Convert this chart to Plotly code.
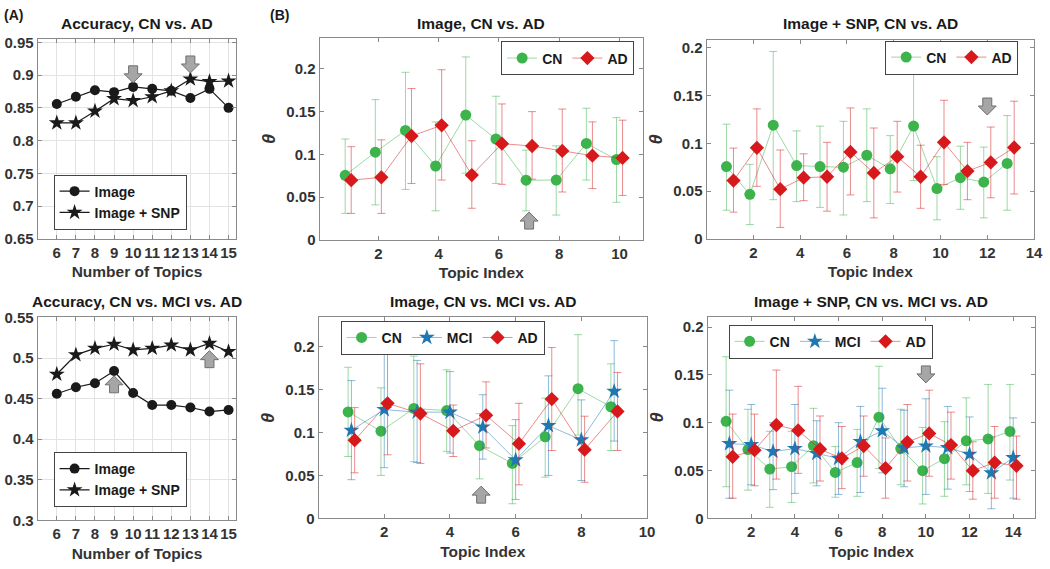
import plotly.graph_objects as go

W, H = 1050, 569

# ---------------- Panel (A) data ----------------
topics_A = [6, 7, 8, 9, 10, 11, 12, 13, 14, 15]
acc_2c_image = [0.856, 0.867, 0.877, 0.874, 0.882, 0.879, 0.876, 0.865, 0.879, 0.850]
acc_2c_snp = [0.827, 0.827, 0.845, 0.864, 0.861, 0.867, 0.876, 0.894, 0.890, 0.891]
acc_3c_image = [0.456, 0.464, 0.469, 0.484, 0.457, 0.442, 0.442, 0.439, 0.434, 0.436]
acc_3c_snp = [0.480, 0.504, 0.512, 0.517, 0.510, 0.512, 0.516, 0.510, 0.518, 0.508]

# ---------------- Panel (B) data: Image, CN vs AD (10 topics) ----------------
img2_cn = [0.0755, 0.1026, 0.128, 0.0864, 0.146, 0.118, 0.0698, 0.070, 0.1128, 0.094]
img2_cn_lo = [0.031, 0.041, 0.059, 0.034, 0.078, 0.066, 0.034, 0.029, 0.070, 0.044]
img2_cn_hi = [0.118, 0.164, 0.196, 0.138, 0.214, 0.168, 0.105, 0.110, 0.154, 0.143]
img2_ad = [0.0698, 0.0732, 0.1215, 0.134, 0.0758, 0.1125, 0.1098, 0.104, 0.0985, 0.0958]
img2_ad_lo = [0.031, 0.031, 0.066, 0.070, 0.037, 0.065, 0.071, 0.056, 0.060, 0.052]
img2_ad_hi = [0.109, 0.117, 0.177, 0.199, 0.116, 0.159, 0.150, 0.153, 0.138, 0.140]

# ---------------- Image + SNP, CN vs AD (13 topics) ----------------
snp2_cn = [0.0757, 0.0466, 0.119, 0.0767, 0.0757, 0.075, 0.0875, 0.0733, 0.118, 0.0527, 0.064, 0.0595, 0.079]
snp2_cn_lo = [0.030, 0.015, 0.041, 0.039, 0.033, 0.025, 0.039, 0.037, 0.061, 0.020, 0.031, 0.022, 0.030]
snp2_cn_hi = [0.120, 0.078, 0.196, 0.113, 0.118, 0.123, 0.136, 0.108, 0.174, 0.086, 0.097, 0.096, 0.129]
snp2_ad = [0.061, 0.0953, 0.052, 0.064, 0.065, 0.091, 0.069, 0.086, 0.065, 0.101, 0.071, 0.080, 0.0956]
snp2_ad_lo = [0.028, 0.055, 0.012, 0.040, 0.029, 0.046, 0.022, 0.049, 0.032, 0.057, 0.041, 0.043, 0.047]
snp2_ad_hi = [0.095, 0.136, 0.093, 0.089, 0.101, 0.137, 0.116, 0.123, 0.098, 0.145, 0.101, 0.117, 0.144]

# ---------------- Image, CN vs MCI vs AD (9 topics) ----------------
img3_cn = [0.124, 0.1015, 0.128, 0.1256, 0.0846, 0.064, 0.095, 0.151, 0.130]
img3_cn_lo = [0.072, 0.050, 0.066, 0.078, 0.046, 0.017, 0.048, 0.097, 0.079]
img3_cn_hi = [0.176, 0.152, 0.189, 0.173, 0.122, 0.108, 0.140, 0.214, 0.180]
img3_mci = [0.1026, 0.1267, 0.1237, 0.1237, 0.1064, 0.068, 0.108, 0.0913, 0.148]
img3_mci_lo = [0.045, 0.059, 0.065, 0.076, 0.069, 0.022, 0.050, 0.044, 0.090]
img3_mci_hi = [0.1605, 0.193, 0.184, 0.171, 0.144, 0.115, 0.166, 0.138, 0.207]
img3_ad = [0.091, 0.134, 0.122, 0.102, 0.120, 0.087, 0.139, 0.080, 0.1245]
img3_ad_lo = [0.053, 0.074, 0.064, 0.072, 0.082, 0.039, 0.079, 0.042, 0.079]
img3_ad_hi = [0.129, 0.194, 0.180, 0.132, 0.159, 0.134, 0.199, 0.119, 0.170]

# ---------------- Image + SNP, CN vs MCI vs AD (14 topics) ----------------
snp3_cn = [0.1014, 0.0719, 0.0515, 0.054, 0.076, 0.048, 0.0583, 0.1058, 0.0729, 0.0498, 0.0624, 0.081, 0.083, 0.0908]
snp3_cn_lo = [0.033, 0.0295, 0.0115, 0.0166, 0.037, 0.022, 0.023, 0.052, 0.035, 0.015, 0.023, 0.035, 0.026, 0.040]
snp3_cn_hi = [0.169, 0.114, 0.091, 0.091, 0.115, 0.075, 0.093, 0.159, 0.114, 0.095, 0.101, 0.126, 0.140, 0.140]
snp3_mci = [0.078, 0.077, 0.0698, 0.0729, 0.0678, 0.0627, 0.0803, 0.0915, 0.0736, 0.0756, 0.0739, 0.067, 0.0475, 0.0634]
snp3_mci_lo = [0.021, 0.035, 0.030, 0.026, 0.034, 0.025, 0.027, 0.0475, 0.033, 0.025, 0.0305, 0.028, 0.010, 0.021]
snp3_mci_hi = [0.134, 0.119, 0.100, 0.119, 0.102, 0.100, 0.117, 0.136, 0.113, 0.125, 0.117, 0.106, 0.085, 0.105]
snp3_ad = [0.0644, 0.0712, 0.0976, 0.0919, 0.0722, 0.0627, 0.0756, 0.0525, 0.0797, 0.0888, 0.0766, 0.0498, 0.0583, 0.0549]
snp3_ad_lo = [0.021, 0.034, 0.041, 0.047, 0.039, 0.031, 0.044, 0.021, 0.039, 0.044, 0.041, 0.020, 0.021, 0.020]
snp3_ad_hi = [0.109, 0.109, 0.155, 0.138, 0.107, 0.096, 0.107, 0.084, 0.119, 0.134, 0.111, 0.080, 0.096, 0.086]

# arrows: (axis suffix, x, y, direction)
arrows = [
    ("", 10, 0.902, "down"), ("", 13, 0.917, "down"),
    ("2", 9, 0.467, "up"), ("2", 14, 0.498, "up"),
    ("3", 7, 0.022, "up"), ("4", 12, 0.139, "down"),
    ("5", 4.95, 0.027, "up"), ("6", 10, 0.151, "down"),
]

acc_yticks_2c = [0.65, 0.7, 0.75, 0.8, 0.85, 0.9, 0.95]
acc_yticks_2c_text = ["0.65", "0.7", "0.75", "0.8", "0.85", "0.9", "0.95"]
acc_yticks_3c = [0.3, 0.35, 0.4, 0.45, 0.5, 0.55]
acc_yticks_3c_text = ["0.3", "0.35", "0.4", "0.45", "0.5", "0.55"]
theta_ticks = [0, 0.05, 0.1, 0.15, 0.2]
theta_ticks_text = ["0", "0.05", "0.1", "0.15", "0.2"]

# ---------------- styling ----------------
FONT = "Liberation Sans"
GREEN, RED, BLUE = "#3cb44b", "#d7191c", "#1f78b4"
GREEN_L, RED_L, BLUE_L = "rgba(60,180,75,0.5)", "rgba(215,25,28,0.5)", "rgba(31,120,180,0.5)"
AXC = "#8a8a8a"
TXT = "#333333"

boxes = {  # pixel boxes: left, top, right, bottom
    "": (38, 31, 238, 237),
    "2": (38, 318, 238, 527),
    "3": (322, 30, 648, 238),
    "4": (712, 32, 1042, 237),
    "5": (321, 318, 652, 525),
    "6": (713, 317, 1043, 525),
}

fig = go.Figure()


def add_acc(sfx, ys, name, symbol, size, legend):
    fig.add_trace(go.Scatter(
        x=topics_A, y=ys, name=name, mode="lines+markers",
        line=dict(color="#1a1a1a", width=1.2),
        marker=dict(symbol=symbol, size=size, color="#1a1a1a"),
        xaxis="x" + sfx, yaxis="y" + sfx, legend=legend, hoverinfo="skip"))


add_acc("", acc_2c_image, "Image", "circle", 10, "legend")
add_acc("", acc_2c_snp, "Image + SNP", "star", 12, "legend")
add_acc("2", acc_3c_image, "Image", "circle", 10, "legend2")
add_acc("2", acc_3c_snp, "Image + SNP", "star", 12, "legend2")


def add_theta(sfx, offset, mean, lo, hi, name, color, lcolor, symbol, size, legend):
    xs = [i + 1 + offset for i in range(len(mean))]
    fig.add_trace(go.Scatter(
        x=xs, y=mean, name=name, mode="lines+markers",
        line=dict(color=lcolor, width=1),
        marker=dict(symbol=symbol, size=size, color=color, line=dict(width=0)),
        error_y=dict(type="data", symmetric=False,
                     array=[h - m for h, m in zip(hi, mean)],
                     arrayminus=[m - l for m, l in zip(mean, lo)],
                     color=lcolor, thickness=1, width=4),
        xaxis="x" + sfx, yaxis="y" + sfx, legend=legend, hoverinfo="skip"))


add_theta("3", -0.1, img2_cn, img2_cn_lo, img2_cn_hi, "CN", GREEN, GREEN_L, "circle", 11, "legend3")
add_theta("3", 0.1, img2_ad, img2_ad_lo, img2_ad_hi, "AD", RED, RED_L, "diamond", 11, "legend3")
add_theta("4", -0.15, snp2_cn, snp2_cn_lo, snp2_cn_hi, "CN", GREEN, GREEN_L, "circle", 11, "legend4")
add_theta("4", 0.15, snp2_ad, snp2_ad_lo, snp2_ad_hi, "AD", RED, RED_L, "diamond", 11, "legend4")
add_theta("5", -0.1, img3_cn, img3_cn_lo, img3_cn_hi, "CN", GREEN, GREEN_L, "circle", 11, "legend5")
add_theta("5", 0.0, img3_mci, img3_mci_lo, img3_mci_hi, "MCI", BLUE, BLUE_L, "star", 12, "legend5")
add_theta("5", 0.1, img3_ad, img3_ad_lo, img3_ad_hi, "AD", RED, RED_L, "diamond", 11, "legend5")
add_theta("6", -0.15, snp3_cn, snp3_cn_lo, snp3_cn_hi, "CN", GREEN, GREEN_L, "circle", 11, "legend6")
add_theta("6", 0.0, snp3_mci, snp3_mci_lo, snp3_mci_hi, "MCI", BLUE, BLUE_L, "star", 12, "legend6")
add_theta("6", 0.15, snp3_ad, snp3_ad_lo, snp3_ad_hi, "AD", RED, RED_L, "diamond", 11, "legend6")

tickfont = dict(family=FONT, size=15, color=TXT, weight="bold")
titlefont = dict(family=FONT, size=15.5, color=TXT, weight="bold")


def axis_common(grid):
    return dict(showline=True, linecolor=AXC, linewidth=1, mirror="ticks",
                ticks="inside", ticklen=4, tickcolor=AXC, tickwidth=1,
                zeroline=False, showgrid=grid, gridcolor="#e3e3e3", gridwidth=1,
                tickfont=tickfont, fixedrange=True)


xcfg = {
    "": dict(range=[5, 15.4], tickvals=topics_A, title="Number of Topics"),
    "2": dict(range=[5, 15.4], tickvals=topics_A, title="Number of Topics"),
    "3": dict(range=[0.05, 10.78], tickvals=[2, 4, 6, 8, 10], title="Topic Index"),
    "4": dict(range=[0, 14], tickvals=[2, 4, 6, 8, 10, 12, 14], title="Topic Index"),
    "5": dict(range=[0, 10], tickvals=[2, 4, 6, 8, 10], title="Topic Index"),
    "6": dict(range=[0, 15], tickvals=[2, 4, 6, 8, 10, 12, 14], title="Topic Index"),
}
ycfg = {
    "": dict(range=[0.65, 0.955], tickvals=acc_yticks_2c, ticktext=acc_yticks_2c_text, title=None),
    "2": dict(range=[0.3, 0.55], tickvals=acc_yticks_3c, ticktext=acc_yticks_3c_text, title=None),
    "3": dict(range=[0, 0.236], tickvals=theta_ticks, ticktext=theta_ticks_text, title="θ"),
    "4": dict(range=[0, 0.208], tickvals=theta_ticks, ticktext=theta_ticks_text, title="θ"),
    "5": dict(range=[0, 0.234], tickvals=theta_ticks, ticktext=theta_ticks_text, title="θ"),
    "6": dict(range=[0, 0.211], tickvals=theta_ticks, ticktext=theta_ticks_text, title="θ"),
}

layout = dict(width=W, height=H, margin=dict(l=0, r=0, t=0, b=0),
              paper_bgcolor="white", plot_bgcolor="white",
              font=dict(family=FONT, color=TXT))

for sfx, (l, t, r, b) in boxes.items():
    grid = sfx in ("", "2")
    xa = axis_common(grid)
    xa.update(domain=[l / W, r / W], anchor="y" + sfx, range=xcfg[sfx]["range"],
              tickvals=xcfg[sfx]["tickvals"],
              title=dict(text=xcfg[sfx]["title"], font=titlefont, standoff=6))
    ya = axis_common(grid)
    ya.update(domain=[1 - b / H, 1 - t / H], anchor="x" + sfx, range=ycfg[sfx]["range"],
              tickvals=ycfg[sfx]["tickvals"], ticktext=ycfg[sfx]["ticktext"])
    if ycfg[sfx]["title"]:
        ya["title"] = dict(text=ycfg[sfx]["title"], standoff=6,
                           font=dict(family=FONT, size=18, color=TXT, weight="bold", style="italic"))
    layout["xaxis" + sfx] = xa
    layout["yaxis" + sfx] = ya

legfont = dict(family=FONT, size=14, color="#1a1a1a", weight="bold")


def leg(cx, cy, horizontal):
    d = dict(x=cx / W, y=1 - cy / H, xanchor="center", yanchor="middle", xref="paper", yref="paper",
             bgcolor="white", bordercolor="#444444", borderwidth=1, font=legfont,
             tracegroupgap=0, itemclick=False, itemdoubleclick=False)
    if horizontal:
        d["orientation"] = "h"
    return d


layout["legend"] = leg(121, 199, False)
layout["legend2"] = leg(121, 485, False)
layout["legend3"] = leg(572, 51, True)
layout["legend4"] = leg(959, 50, True)
layout["legend5"] = leg(446, 339, True)
layout["legend6"] = leg(837, 343, True)

fig.update_layout(**layout)

# titles and panel labels
titles = [
    ("Accuracy, CN vs. AD", "", 15), ("Accuracy, CN vs. MCI vs. AD", "2", 302),
    ("Image, CN vs. AD", "3", 15), ("Image + SNP, CN vs. AD", "4", 15),
    ("Image, CN vs. MCI vs. AD", "5", 302), ("Image + SNP, CN vs. MCI vs. AD", "6", 302),
]
for text, sfx, py in titles:
    l, t, r, b = boxes[sfx]
    fig.add_annotation(text=text, x=(l + r) / 2 / W, y=1 - py / H, xref="paper", yref="paper",
                       showarrow=False, xanchor="center", yanchor="middle",
                       font=dict(family=FONT, size=15.5, color="#1a1a1a", weight="bold"))
for text, px in (("(A)", 2), ("(B)", 270)):
    fig.add_annotation(text=text, x=px / W, y=1 - 6 / H, xref="paper", yref="paper",
                       showarrow=False, xanchor="left", yanchor="middle",
                       font=dict(family=FONT, size=14, color="#1a1a1a", weight="bold"))

# gray block arrows
down_path = "M -4.5,8 L 4.5,8 L 4.5,0 L 9,0 L 0,-9 L -9,0 L -4.5,0 Z"
up_path = "M -4.5,-8 L 4.5,-8 L 4.5,0 L 9,0 L 0,9 L -9,0 L -4.5,0 Z"
for sfx, ax, ay, direction in arrows:
    fig.add_shape(type="path", xref="x" + sfx, yref="y" + sfx,
                  xsizemode="pixel", ysizemode="pixel", xanchor=ax, yanchor=ay,
                  path=down_path if direction == "down" else up_path,
                  fillcolor="#a6a6a6", line=dict(color="#6f6f6f", width=1), layer="above")

fig.write_html("out.html", config={"displayModeBar": False},
               post_script="document.body.style.margin='0';")
